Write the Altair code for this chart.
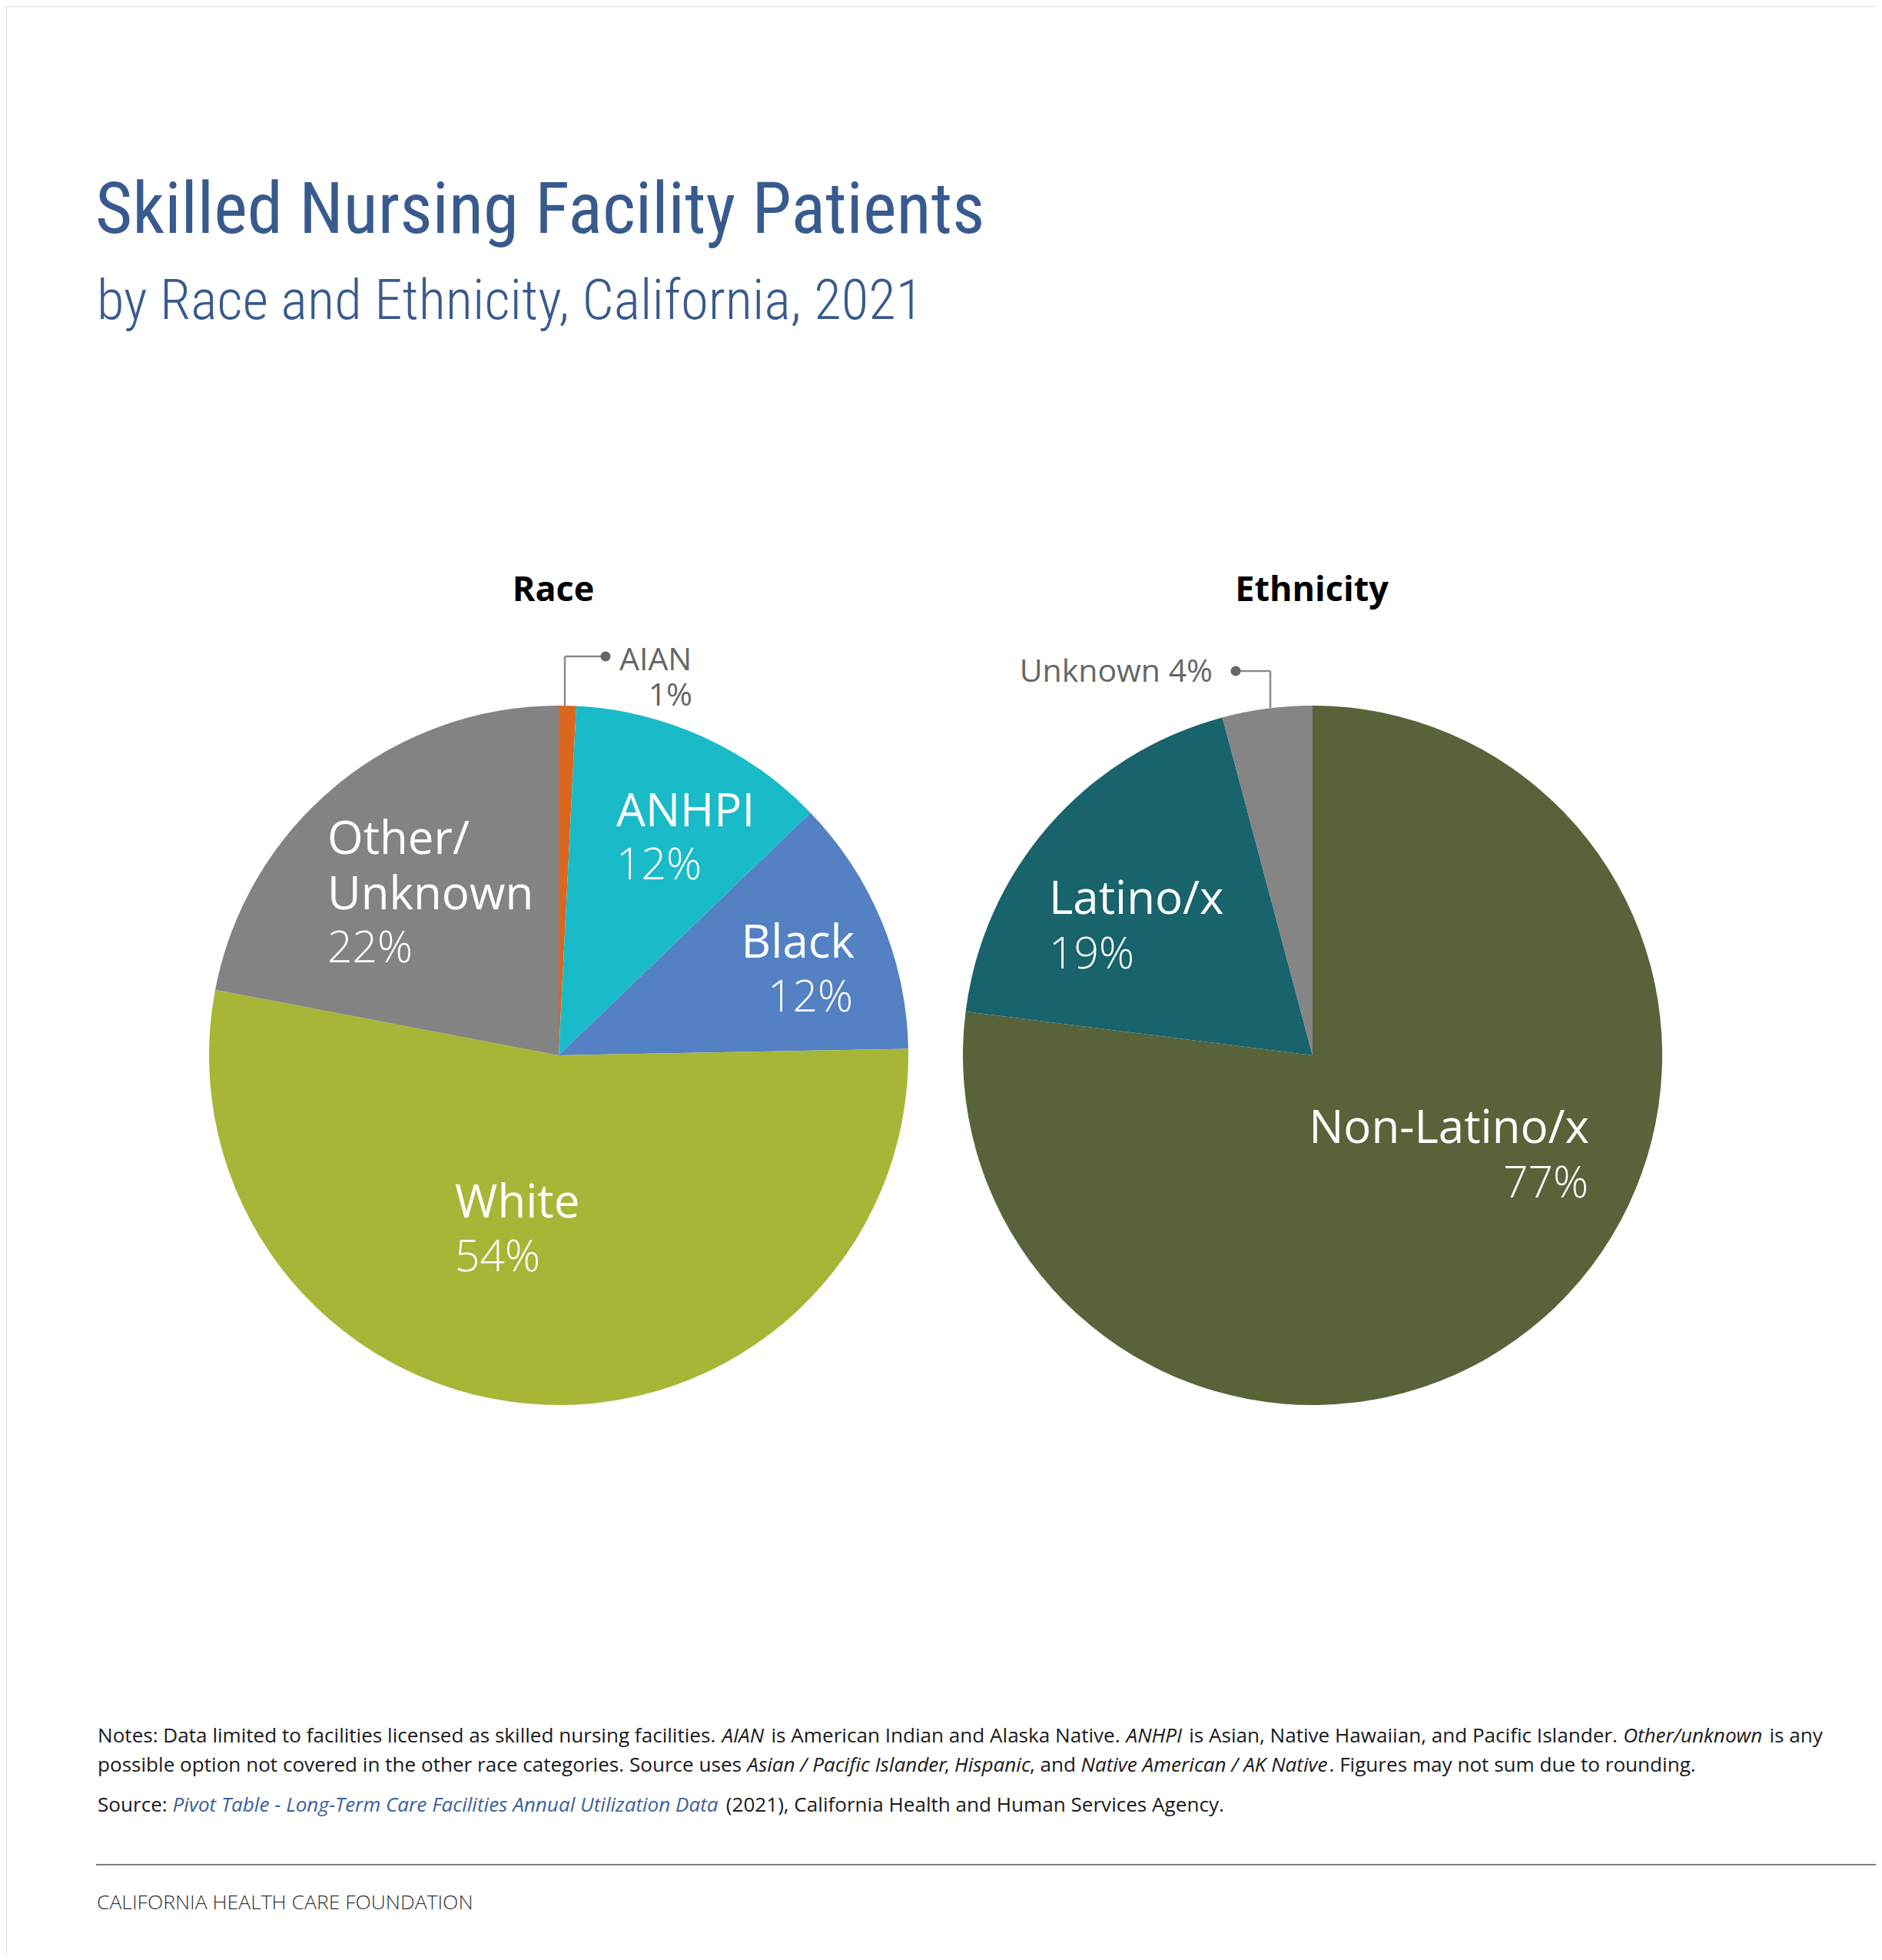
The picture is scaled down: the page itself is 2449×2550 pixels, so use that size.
import altair as alt
import pandas as pd

# ---------------- data ----------------
race_cats = ["AIAN", "ANHPI", "Black", "White", "Other/Unknown"]
race_vals = [0.8, 12.0, 11.9, 53.3, 22.0]
race_pcts = ["1%", "12%", "12%", "54%", "22%"]

eth_cats = ["Non-Latino/x", "Latino/x", "Unknown"]
eth_vals = [77.0, 18.85, 4.15]
eth_pcts = ["77%", "19%", "4%"]

# ---------------- styles ----------------
race_colors = ["#DA671D", "#1ABBC9", "#5381C3", "#A7B637", "#838383"]
eth_colors = ["#58633A", "#18636C", "#858585"]
TITLE_BLUE = "#385A8E"
W, H = 2433, 2534
M = 8  # page margin


def P(v):
    return v - M


RACE_C = (727, 1373)
ETH_C = (1708, 1373)
R = 455

color_scale = alt.Scale(domain=race_cats + eth_cats, range=race_colors + eth_colors)


def pie(cats, vals, center):
    df = pd.DataFrame({"cat": cats, "val": vals, "ord": list(range(len(cats)))})
    return alt.Chart(df).mark_arc(radius=R).encode(
        theta=alt.Theta("val:Q", stack=True),
        color=alt.Color("cat:N", scale=color_scale, legend=None),
        order=alt.Order("ord:Q"),
        x=alt.value(P(center[0])),
        y=alt.value(P(center[1])),
    )


def txt(rows, **mark):
    df = pd.DataFrame(rows, columns=["t", "x", "y"])
    df["x"] = df["x"] - M
    df["y"] = df["y"] - M
    return alt.Chart(df).mark_text(baseline="alphabetic", **mark).encode(
        x=alt.X("x:Q", scale=None, axis=None),
        y=alt.Y("y:Q", scale=None, axis=None),
        text="t:N",
    )


# label anchor positions (page pixels)
name_left = [("ANHPI", 802, 1075), ("Other/", 426, 1111), ("Unknown", 426, 1183),
             ("White", 592, 1584), ("Latino/x", 1365, 1189)]
pct_left = [(race_pcts[1], 802, 1144), (race_pcts[4], 426, 1252),
            (race_pcts[3], 592, 1654), (eth_pcts[1], 1365, 1260)]
name_right = [("Black", 1112, 1246), ("Non-Latino/x", 2068, 1487)]
pct_right = [(race_pcts[2], 1110, 1316), (eth_pcts[0], 2067, 1558)]

LABEL_FONT = "Open Sans"
layers = [
    pie(race_cats, race_vals, RACE_C),
    pie(eth_cats, eth_vals, ETH_C),
    txt(name_left, align="left", font=LABEL_FONT, fontSize=60, color="white"),
    txt(pct_left, align="left", font=LABEL_FONT, fontSize=57, fontWeight=300, color="white"),
    txt(name_right, align="right", font=LABEL_FONT, fontSize=60, color="white"),
    txt(pct_right, align="right", font=LABEL_FONT, fontSize=57, fontWeight=300, color="white"),
]

# callouts
GRAY_TXT = "#666666"
layers += [
    txt([("AIAN", 806, 872)], align="left", font=LABEL_FONT, fontSize=41, color=GRAY_TXT),
    txt([(race_pcts[0], 901, 918)], align="right", font=LABEL_FONT, fontSize=41, color=GRAY_TXT),
    txt([("Unknown " + eth_pcts[2], 1578, 887)], align="right", font=LABEL_FONT, fontSize=41, color=GRAY_TXT),
]

seg = pd.DataFrame({
    "x": [735, 735, 1608, 1653],
    "x2": [788, 735, 1653, 1653],
    "y": [854, 854, 873, 873],
    "y2": [854, 919, 873, 921],
})
for c in ["x", "x2", "y", "y2"]:
    seg[c] = seg[c] - M
layers.append(
    alt.Chart(seg).mark_rule(color="#8a8a8a", strokeWidth=2.5).encode(
        x=alt.X("x:Q", scale=None, axis=None), x2="x2:Q",
        y=alt.Y("y:Q", scale=None, axis=None), y2="y2:Q")
)
dots = pd.DataFrame({"x": [788 - M, 1608 - M], "y": [854 - M, 873 - M]})
layers.append(
    alt.Chart(dots).mark_circle(size=170, color="#666666", opacity=1).encode(
        x=alt.X("x:Q", scale=None, axis=None), y=alt.Y("y:Q", scale=None, axis=None))
)

# headers & titles
layers += [
    txt([("Race", 720, 782), ("Ethnicity", 1707, 782)], align="center",
        font=LABEL_FONT, fontSize=45, fontWeight="bold", color="black"),
    txt([("Skilled Nursing Facility Patients", 124, 303)], align="left",
        font="Roboto Condensed", fontSize=93, color=TITLE_BLUE),
    txt([("by Race and Ethnicity, California, 2021", 126, 415)], align="left",
        font="Roboto Condensed", fontSize=73, fontWeight=300, color=TITLE_BLUE),
]

# ---------------- notes (mixed regular / italic runs) ----------------
OS_W = {
    " ": 532, "(": 606, ")": 606, ",": 502, "-": 659, ".": 545, "/": 752, ":": 545,
    "A": 1296, "B": 1327, "C": 1292, "D": 1493, "E": 1139, "F": 1057, "G": 1491,
    "H": 1511, "I": 571, "J": 547, "K": 1257, "L": 1063, "M": 1849, "N": 1599,
    "O": 1595, "P": 1233, "Q": 1595, "R": 1266, "S": 1124, "T": 1133, "U": 1491,
    "V": 1219, "W": 1896, "X": 1182, "Y": 1147, "Z": 1169,
    "a": 1139, "b": 1255, "c": 975, "d": 1255, "e": 1149, "f": 694, "g": 1122,
    "h": 1257, "i": 518, "j": 518, "k": 1075, "l": 518, "m": 1905, "n": 1257,
    "o": 1237, "p": 1255, "q": 1255, "r": 836, "s": 977, "t": 723, "u": 1257,
    "v": 1026, "w": 1593, "x": 1073, "y": 1028, "z": 977,
}
STYLE_FACTOR = {"r": 1.0, "i": 0.945, "l": 0.956}


def em(s, style="r"):
    return sum(OS_W.get(ch, 1171) for ch in s) / 2048.0 * STYLE_FACTOR[style]


# runs: (text, style) with style r = regular, i = italic, l = link (blue italic)
note1 = [("Notes: Data limited to facilities licensed as skilled nursing facilities. ", "r"),
         ("AIAN", "i"), (" is American Indian and Alaska Native. ", "r"),
         ("ANHPI", "i"), (" is Asian, Native Hawaiian, and Pacific Islander. ", "r"),
         ("Other/unknown", "i"), (" is any", "r")]
note2 = [("possible option not covered in the other race categories. Source uses ", "r"),
         ("Asian / Pacific Islander", "i"), (", ", "r"), ("Hispanic", "i"), (", and ", "r"),
         ("Native American / AK Native", "i"), (". Figures may not sum due to rounding.", "r")]
note3 = [("Source: ", "r"),
         ("Pivot Table - Long-Term Care Facilities Annual Utilization Data", "l"),
         (" (2021), California Health and Human Services Agency.", "r")]

NOTE_X0, NOTE_X1 = 127, 2372
NS = (NOTE_X1 - NOTE_X0) / sum(em(t, s) for t, s in note1)
NS = min(NS, 27)

runs = {"r": [], "i": [], "l": []}
for line, yb in [(note1, 2267), (note2, 2305), (note3, 2357)]:
    x = NOTE_X0
    for t, s in line:
        stripped = t.lstrip()
        lead = em(t[: len(t) - len(stripped)], s) * NS
        if stripped.strip():
            runs[s].append((stripped.rstrip(), x + lead, yb))
        x += em(t, s) * NS

NOTE_FONT = "Open Sans"
layers += [
    txt(runs["r"], align="left", font=NOTE_FONT, fontSize=NS, color="#1a1a1a"),
    txt(runs["i"], align="left", font=NOTE_FONT, fontSize=NS, fontStyle="italic", color="#1a1a1a"),
    txt(runs["l"], align="left", font=NOTE_FONT, fontSize=NS, fontStyle="italic", color="#3E5F99"),
]

# footer
layers.append(
    alt.Chart(pd.DataFrame({"x": [125 - M], "x2": [2449 - M], "y": [2426 - M]})).mark_rule(
        color="#7f7f7f", strokeWidth=2).encode(
        x=alt.X("x:Q", scale=None, axis=None), x2="x2:Q",
        y=alt.Y("y:Q", scale=None, axis=None))
)
layers.append(
    txt([("CALIFORNIA HEALTH CARE FOUNDATION", 126, 2484)], align="left",
        font=NOTE_FONT, fontSize=26.5, fontWeight=300, color="#333333")
)

chart = alt.layer(*layers).resolve_scale(theta="independent").properties(
    width=W, height=H, autosize=alt.AutoSizeParams(type="none"), padding=0,
).configure_view(strokeWidth=0, stroke="transparent").configure(background="white")

chart.save("out.html", embed_options={"renderer": "svg", "actions": False})
